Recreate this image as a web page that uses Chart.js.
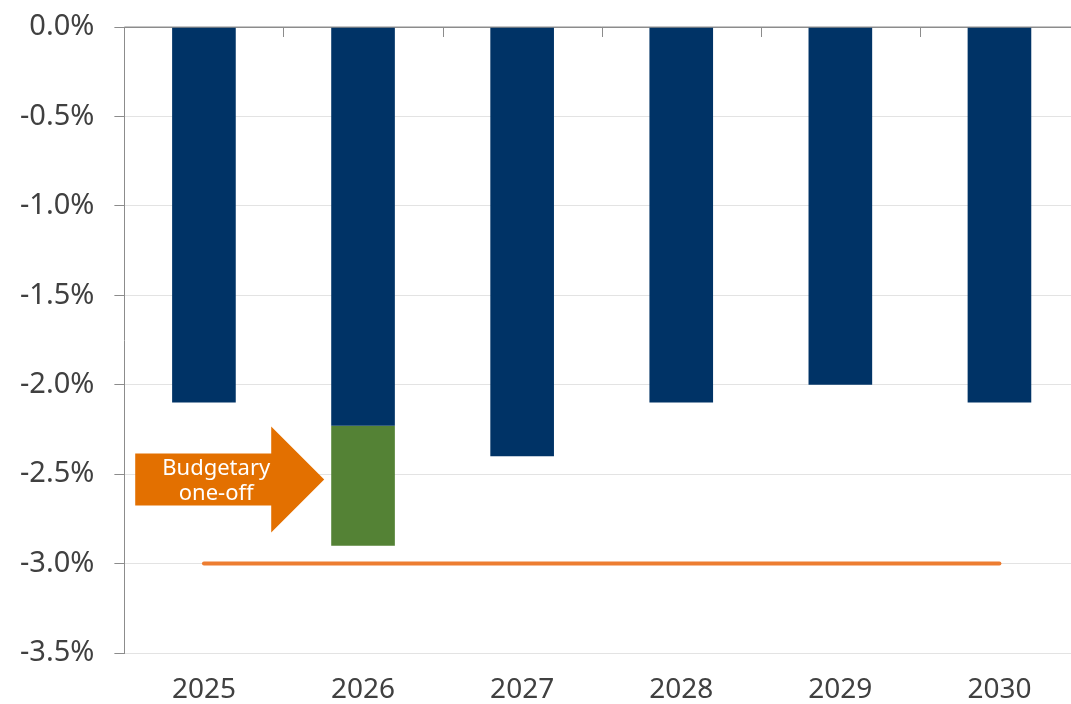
<!DOCTYPE html>
<html>
<head>
<meta charset="utf-8">
<script src="https://cdn.jsdelivr.net/npm/chart.js@4"></script>
<style>
  html, body { margin: 0; padding: 0; background: #fff; overflow: hidden; }
  #wrap { width: 1079px; height: 704px; position: relative; }
</style>
</head>
<body>
<div id="wrap"><canvas id="chart"></canvas></div>
<script>
// ---------------------------------------------------------------------------
// Data
// ---------------------------------------------------------------------------
const years = ['2025', '2026', '2027', '2028', '2029', '2030'];
const structural = [-2.1, -2.23, -2.4, -2.1, -2.0, -2.1];
const oneOff = [null, -0.67, null, null, null, null];
const limit = [-3.0, -3.0, -3.0, -3.0, -3.0, -3.0];
const yTicks = [0, -0.5, -1.0, -1.5, -2.0, -2.5, -3.0, -3.5];
const arrowLabel = ['Budgetary', 'one-off'];
const arrowLevel = -2.53;

const NAVY = '#003366';
const GREEN = '#548235';
const ORANGE = '#ED7D31';
const ARROW = '#E37000';
const AXIS = '#8c8c8c';
const FONT = "'Noto Sans', 'Open Sans', sans-serif";

// ---------------------------------------------------------------------------
// Plugins: category ticks on the zero line, and the one-off arrow callout
// ---------------------------------------------------------------------------
const zeroTicks = {
  id: 'zeroTicks',
  afterDatasetsDraw(chart) {
    const { ctx, scales: { x, y } } = chart;
    const y0 = y.getPixelForValue(0);
    const step = x.getPixelForValue(1) - x.getPixelForValue(0);
    ctx.save();
    ctx.strokeStyle = AXIS;
    ctx.lineWidth = 1;
    ctx.beginPath();
    ctx.moveTo(chart.chartArea.left, y0);
    ctx.lineTo(chart.chartArea.right, y0);
    for (let i = 0; i < years.length; i++) {
      const bx = Math.round(x.getPixelForValue(i) + step / 2) + 0.5;
      ctx.moveTo(bx, y0);
      ctx.lineTo(bx, y0 + 10);
    }
    ctx.stroke();
    ctx.restore();
  },
};

const arrowCallout = {
  id: 'arrowCallout',
  afterDatasetsDraw(chart) {
    const { ctx, scales: { y } } = chart;
    const bar = chart.getDatasetMeta(2).data[1];
    const tipX = bar.x - bar.width / 2 - 7;
    const cy = y.getPixelForValue(arrowLevel);
    const headLen = 53, headHalf = 53, bodyHalf = 26, bodyLen = 136;
    const neckX = tipX - headLen;
    const tailX = neckX - bodyLen;
    ctx.save();
    ctx.fillStyle = ARROW;
    ctx.beginPath();
    ctx.moveTo(tailX, cy - bodyHalf);
    ctx.lineTo(neckX, cy - bodyHalf);
    ctx.lineTo(neckX, cy - headHalf);
    ctx.lineTo(tipX, cy);
    ctx.lineTo(neckX, cy + headHalf);
    ctx.lineTo(neckX, cy + bodyHalf);
    ctx.lineTo(tailX, cy + bodyHalf);
    ctx.closePath();
    ctx.fill();
    ctx.fillStyle = '#ffffff';
    ctx.font = `22px ${FONT}`;
    ctx.textAlign = 'center';
    ctx.textBaseline = 'middle';
    const tx = tailX + 81;
    ctx.fillText(arrowLabel[0], tx, cy - 11);
    ctx.fillText(arrowLabel[1], tx, cy + 14);
    ctx.restore();
  },
};

// ---------------------------------------------------------------------------
// Chart
// ---------------------------------------------------------------------------
new Chart(document.getElementById('chart'), {
  data: {
    labels: years,
    datasets: [
      {
        type: 'line',
        label: 'Limit',
        data: limit,
        borderColor: ORANGE,
        borderWidth: 4,
        borderCapStyle: 'round',
        pointRadius: 0,
        stack: 'limit',
        order: 0,
      },
      {
        type: 'bar',
        label: 'Structural',
        data: structural,
        backgroundColor: NAVY,
        barPercentage: 0.4,
        categoryPercentage: 1,
        stack: 'deficit',
        order: 1,
      },
      {
        type: 'bar',
        label: 'One-off',
        data: oneOff,
        backgroundColor: GREEN,
        barPercentage: 0.4,
        categoryPercentage: 1,
        stack: 'deficit',
        order: 1,
      },
    ],
  },
  options: {
    responsive: true,
    maintainAspectRatio: false,
    animation: false,
    layout: { padding: { top: 27, left: 0, right: 0, bottom: -23 } },
    plugins: {
      legend: { display: false },
      tooltip: { enabled: false },
    },
    scales: {
      x: {
        stacked: true,
        grid: { display: false, drawTicks: false },
        border: { display: false },
        ticks: { color: '#404040', font: { family: FONT, size: 28, lineHeight: 1 }, padding: 23 },
      },
      y: {
        stacked: true,
        min: -3.5,
        max: 0,
        afterBuildTicks: axis => { axis.ticks = yTicks.map(v => ({ value: v })); },
        afterFit: axis => { axis.paddingTop = 0; axis.paddingBottom = 0; },
        border: { color: AXIS, width: 1 },
        grid: {
          color: ctx => (ctx.tick && ctx.tick.value === 0 ? AXIS : '#e3e3e3'),
          tickColor: AXIS,
          tickLength: 10,
        },
        ticks: {
          color: '#404040',
          font: { family: FONT, size: 29 },
          padding: 20,
          callback: v => v.toFixed(1) + '%',
        },
      },
    },
  },
  plugins: [zeroTicks, arrowCallout],
});
</script>
</body>
</html>
